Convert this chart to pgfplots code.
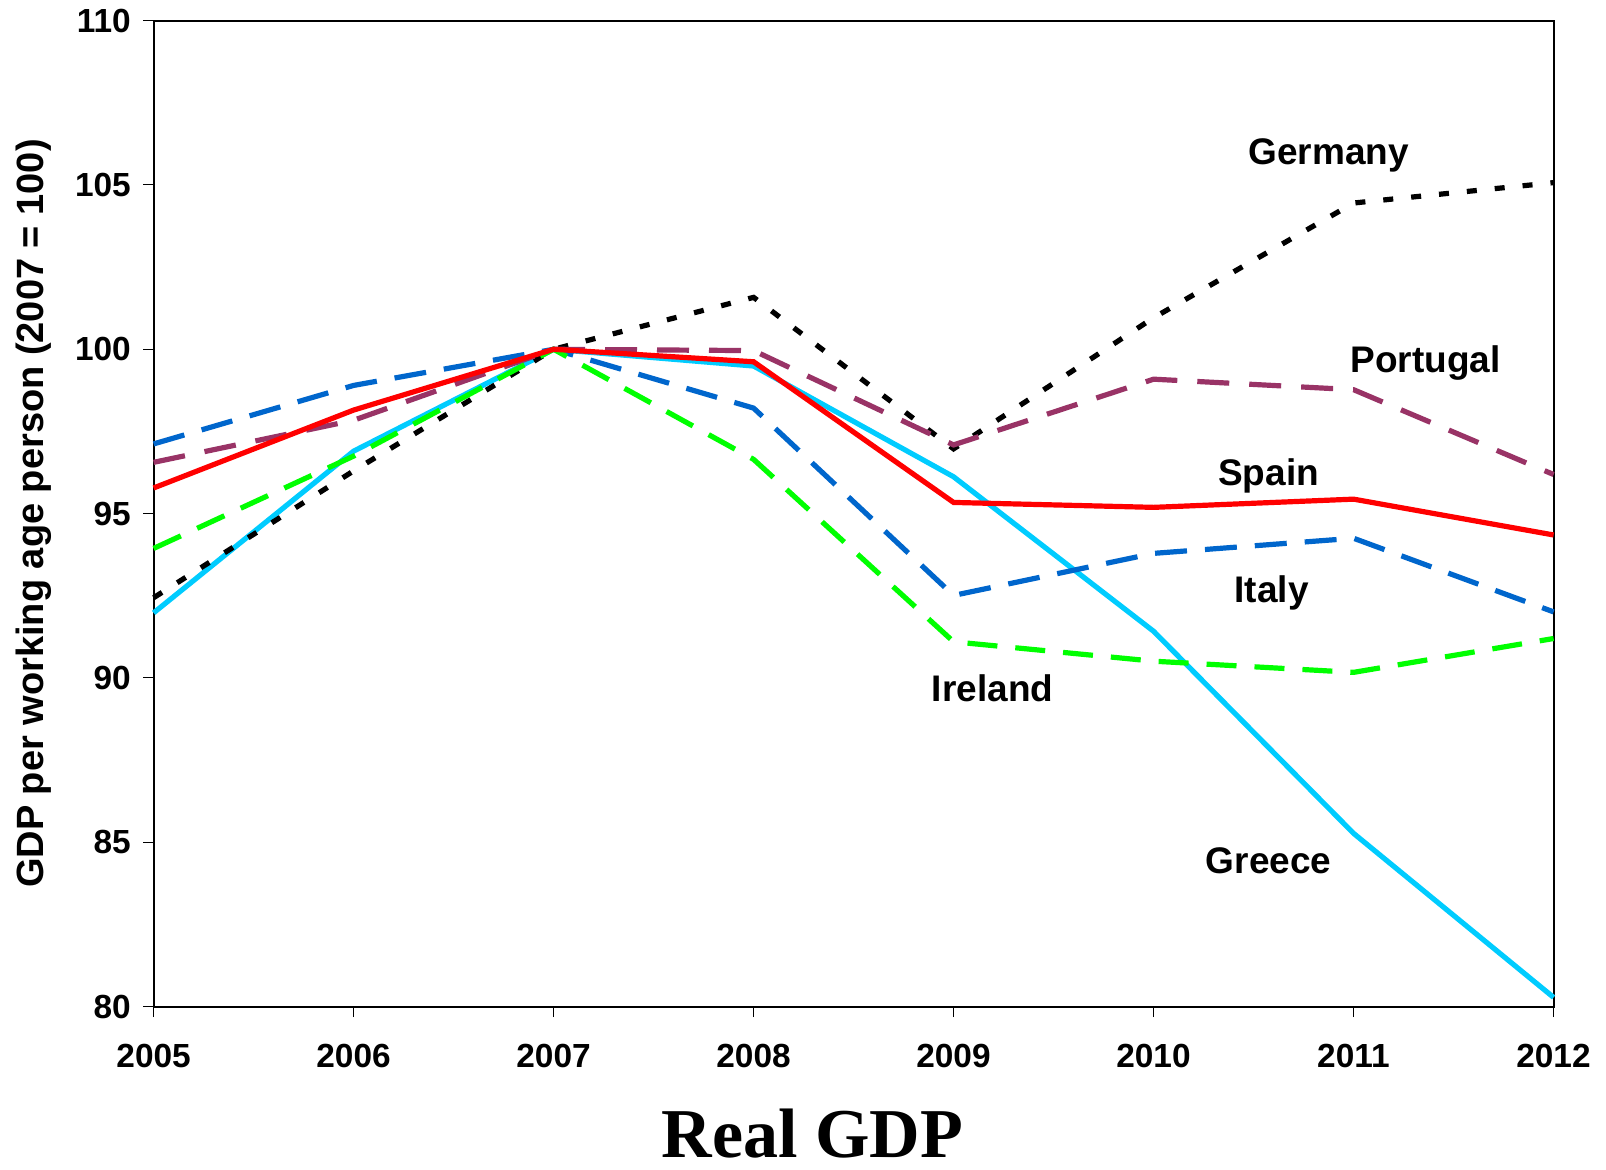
\documentclass[border=0pt]{standalone}
\usepackage{fontspec}
\setmainfont{Liberation Sans}
\newfontfamily\timesfont{Liberation Serif}
\usepackage{pgfplots}
\pgfplotsset{compat=1.18}
\definecolor{cGer}{RGB}{0,0,0}
\definecolor{cPor}{RGB}{153,51,102}
\definecolor{cSpa}{RGB}{255,0,0}
\definecolor{cIta}{RGB}{0,102,204}
\definecolor{cIre}{RGB}{0,255,0}
\definecolor{cGre}{RGB}{0,204,255}
\begin{document}
\begin{tikzpicture}
\begin{axis}[
  scale only axis,
  width=700pt, height=493pt,
  xmin=2005, xmax=2012, ymin=80, ymax=110,
  xtick={2005,...,2012}, ytick={80,85,...,110},
  /pgf/number format/assume math mode=true,
  xticklabel={\pgfmathprintnumber[1000 sep={}]{\tick}},
  yticklabel={\pgfmathprintnumber{\tick}},
  tick align=outside,
  major tick length=5.3pt,
  tick style={line width=0.5pt, black},
  axis line style={line width=1pt},
  tick label style={font=\fontsize{16.7}{18}\selectfont\bfseries},
  xticklabel style={yshift=-9.7pt},
  yticklabel style={xshift=-2.6pt},
  xtick pos=bottom, ytick pos=left,
  ylabel={GDP per working age person (2007 = 100)},
  ylabel style={font=\fontsize{19}{22}\selectfont\bfseries, at={([xshift=-60pt]axis description cs:0,0.5)}, anchor=center},
  clip=false,
]
\addplot[cGre, line width=2.6pt] coordinates {(2005,91.98) (2006,96.90) (2007,100) (2008,99.49) (2009,96.12) (2010,91.42) (2011,85.27) (2012,80.28)};
\addplot[cGer, line width=2.6pt, dash pattern=on 5pt off 9pt] coordinates {(2005,92.44) (2006,96.3) (2007,100) (2008,101.58) (2009,96.97) (2010,100.96) (2011,104.45) (2012,105.07)};
\addplot[cPor, line width=2.6pt, dash pattern=on 16pt off 10pt] coordinates {(2005,96.56) (2006,97.84) (2007,100) (2008,99.96) (2009,97.09) (2010,99.09) (2011,98.77) (2012,96.19)};
\addplot[cIta, line width=2.6pt, dash pattern=on 16pt off 9pt] coordinates {(2005,97.12) (2006,98.90) (2007,100) (2008,98.21) (2009,92.51) (2010,93.79) (2011,94.25) (2012,92.01)};
\addplot[cIre, line width=2.6pt, dash pattern=on 15pt off 9pt] coordinates {(2005,93.94) (2006,96.75) (2007,100) (2008,96.65) (2009,91.10) (2010,90.51) (2011,90.17) (2012,91.20)};
\addplot[cSpa, line width=2.6pt] coordinates {(2005,95.78) (2006,98.15) (2007,100) (2008,99.62) (2009,95.34) (2010,95.19) (2011,95.44) (2012,94.35)};
\begin{scope}[every node/.style={font=\fontsize{18.5}{21}\selectfont\bfseries, anchor=base, inner sep=0pt}]
\node at (axis cs:2010.875,105.62) {Germany};
\node at (axis cs:2011.36,99.29) {Portugal};
\node at (axis cs:2010.575,95.87) {Spain};
\node at (axis cs:2010.59,92.30) {Italy};
\node at (axis cs:2009.195,89.28) {Ireland};
\node at (axis cs:2010.575,84.04) {Greece};
\end{scope}
\node[font=\timesfont\fontsize{35}{40}\selectfont\bfseries, anchor=base, inner sep=0pt, text depth=0pt] at (axis description cs:0.4704,0) [yshift=-75.5pt] {Real GDP};
\end{axis}
\pgfresetboundingbox
\path[use as bounding box] (-76.8pt,-81.5pt) rectangle (726.2pt,503.3pt);
\end{tikzpicture}
\end{document}
